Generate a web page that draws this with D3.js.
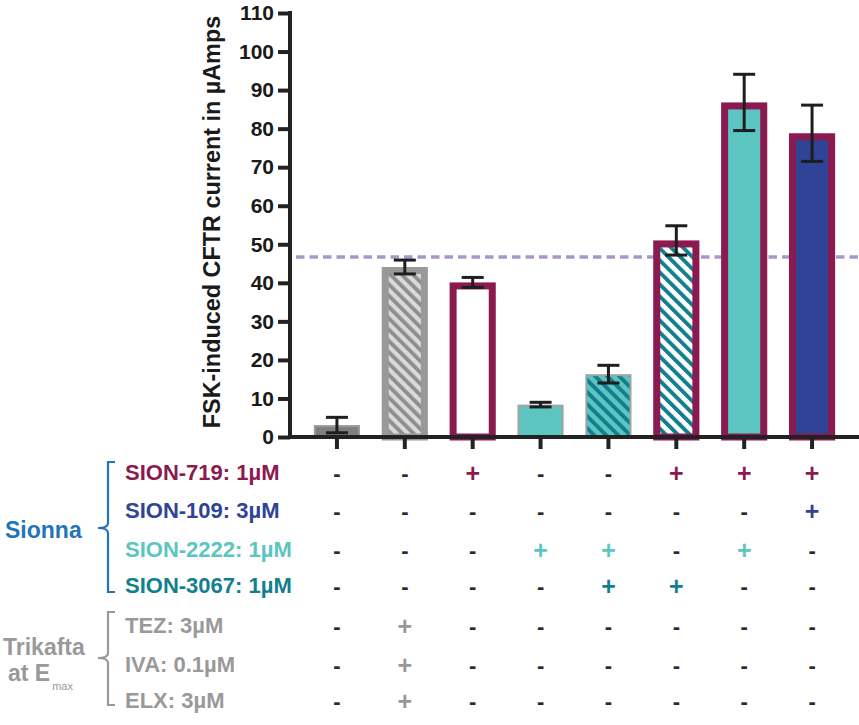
<!DOCTYPE html>
<html><head><meta charset="utf-8">
<script src="https://cdn.jsdelivr.net/npm/d3@7"></script>
<style>
html,body{margin:0;padding:0;background:#fff;}
svg{display:block;}
text{font-family:"Liberation Sans",Arial,Helvetica,sans-serif;font-weight:bold;}
</style></head>
<body>
<svg id="chart" width="859" height="725"></svg>
<script>
// ---- data ----
const categories = ["C1","C2","C3","C4","C5","C6","C7","C8"];
const means  = [3.1, 44.1, 40.1, 8.4, 16.3, 51.0, 86.8, 78.8];
const errors = [2.0, 1.8, 1.3, 0.6, 2.3, 3.8, 7.3, 7.3];
const referenceLine = 46.7;
const yTicks = [0,10,20,30,40,50,60,70,80,90,100,110];
const yTitle = "FSK-induced CFTR current in µAmps";

const rowLabels = ["SION-719: 1µM","SION-109: 3µM","SION-2222: 1µM","SION-3067: 1µM","TEZ: 3µM","IVA: 0.1µM","ELX: 3µM"];
const sion719  = [0,0,1,0,0,1,1,1];
const sion109  = [0,0,0,0,0,0,0,1];
const sion2222 = [0,0,0,1,1,0,1,0];
const sion3067 = [0,0,0,0,1,1,0,0];
const tez      = [0,1,0,0,0,0,0,0];
const iva      = [0,1,0,0,0,0,0,0];
const elx      = [0,1,0,0,0,0,0,0];
const tableRows = [sion719, sion109, sion2222, sion3067, tez, iva, elx];

// ---- styles ----
const C = {maroon:"#8a1a50", blue:"#2f4397", teal:"#5cc5c1", dteal:"#127f8e", gray:"#999999",
           lgray:"#d9d9da", dgray:"#7f7f81", purple:"#a996cc", sionna:"#2474ba", axis:"#222222"};
const rowColors = [C.maroon, C.blue, C.teal, C.dteal, C.gray, C.gray, C.gray];
const barStyles = [
  {fill:C.dgray, stroke:"#9b9b9b", sw:2},
  {fill:"url(#hatchGray)", stroke:C.gray, sw:7},
  {fill:"#ffffff", stroke:C.maroon, sw:7},
  {fill:C.teal, stroke:"#a3a3a3", sw:2},
  {fill:"url(#hatchTeal)", stroke:"#a3a3a3", sw:2},
  {fill:"url(#hatchWhite)", stroke:C.maroon, sw:7},
  {fill:C.teal, stroke:C.maroon, sw:7},
  {fill:C.blue, stroke:C.maroon, sw:7}
];

const svg = d3.select("#chart");
const defs = svg.append("defs");
function hatch(id, bg, fg, period, w){
  const p = defs.append("pattern").attr("id",id).attr("patternUnits","userSpaceOnUse")
    .attr("width",period).attr("height",period).attr("patternTransform","rotate(-45)");
  p.append("rect").attr("width",period).attr("height",period).attr("fill",bg);
  p.append("rect").attr("width",w).attr("height",period).attr("fill",fg);
}
hatch("hatchGray", C.lgray, "#8e8e90", 8, 3.8);
hatch("hatchTeal", C.teal, C.dteal, 8.5, 3.8);
hatch("hatchWhite", "#ffffff", C.dteal, 8.5, 3.9);

const x = d3.scaleBand().domain(categories).range([303, 846]).paddingInner(0.32).paddingOuter(0.16);
const y = d3.scaleLinear().domain([0,110]).range([437, 13]);

// reference dashed line (behind bars)
svg.append("line").attr("x1",296).attr("x2",859).attr("y1",y(referenceLine)).attr("y2",y(referenceLine))
  .attr("stroke",C.purple).attr("stroke-width",3.5).attr("stroke-dasharray","8.5,5");

// bars
svg.append("g").selectAll("rect").data(categories).join("rect")
  .attr("x",(d,i)=>x(d)+barStyles[i].sw/2)
  .attr("y",(d,i)=>y(means[i])+barStyles[i].sw/2)
  .attr("width",(d,i)=>x.bandwidth()-barStyles[i].sw)
  .attr("height",(d,i)=>y(0)-y(means[i])-barStyles[i].sw/2)
  .attr("fill",(d,i)=>barStyles[i].fill)
  .attr("stroke",(d,i)=>barStyles[i].stroke)
  .attr("stroke-width",(d,i)=>barStyles[i].sw);

// error bars
const eb = svg.append("g").attr("stroke","#1e1e1e").attr("stroke-width",3).attr("fill","none");
categories.forEach((d,i)=>{
  const cx = x(d)+x.bandwidth()/2, hi=y(means[i]+errors[i]), lo=y(means[i]-errors[i]);
  eb.append("line").attr("x1",cx).attr("x2",cx).attr("y1",hi).attr("y2",lo);
  eb.append("line").attr("x1",cx-11).attr("x2",cx+11).attr("y1",hi).attr("y2",hi);
  eb.append("line").attr("x1",cx-11).attr("x2",cx+11).attr("y1",lo).attr("y2",lo);
});

// axes
const yAxis = svg.append("g").attr("transform","translate(290,0)")
  .call(d3.axisLeft(y).tickValues(yTicks).tickSize(12).tickPadding(4));
yAxis.select(".domain").attr("d","M0,11V439").attr("stroke",C.axis).attr("stroke-width",4);
yAxis.selectAll(".tick line").attr("stroke",C.axis).attr("stroke-width",4);
yAxis.selectAll(".tick text").attr("font-size",21).attr("fill","#1a1a1a")
  .attr("font-family","Liberation Sans, Arial, sans-serif").attr("font-weight","bold");

const xAxis = svg.append("g").attr("transform","translate(0,437)")
  .call(d3.axisBottom(x).tickSize(12).tickFormat(""));
xAxis.select(".domain").attr("d","M288,0H859").attr("stroke",C.axis).attr("stroke-width",4);
xAxis.selectAll(".tick line").attr("stroke",C.axis).attr("stroke-width",4);

svg.append("text").attr("transform","translate(220,222) rotate(-90)").attr("text-anchor","middle")
  .attr("font-size",23.4).attr("fill","#1a1a1a").text(yTitle);

// table
const rowCenters = [472, 510, 549, 585, 625, 664, 700];
rowLabels.forEach((lab,r)=>{
  svg.append("text").attr("x",125).attr("y",rowCenters[r]+8).attr("font-size",22)
    .attr("fill",rowColors[r]).text(lab);
  tableRows[r].forEach((v,c)=>{
    const cx = x(categories[c])+x.bandwidth()/2;
    svg.append("text").attr("x",cx).attr("y",rowCenters[r]+(v?10:8.5)).attr("text-anchor","middle")
      .attr("font-size",v?25:22).attr("fill",v?rowColors[r]:"#2a2a2a").text(v?"+":"-");
  });
});

// group labels & brackets
svg.append("text").attr("x",5).attr("y",538).attr("font-size",23).attr("fill",C.sionna).text("Sionna");
svg.append("path").attr("d","M115,462H108V523Q108,528 98,528Q108,528 108,533V592H115")
  .attr("fill","none").attr("stroke",C.sionna).attr("stroke-width",2.2);
svg.append("text").attr("x",3).attr("y",655).attr("font-size",23).attr("fill",C.gray).text("Trikafta");
const at = svg.append("text").attr("x",8).attr("y",681).attr("font-size",23).attr("fill",C.gray);
at.append("tspan").text("at E");
at.append("tspan").attr("font-size",11).attr("font-weight","normal").attr("dx",2).attr("dy",9).text("max");
svg.append("path").attr("d","M115,612H108V653Q108,658 98,658Q108,658 108,663V705H115")
  .attr("fill","none").attr("stroke",C.gray).attr("stroke-width",2.2);
</script>
</body></html>
